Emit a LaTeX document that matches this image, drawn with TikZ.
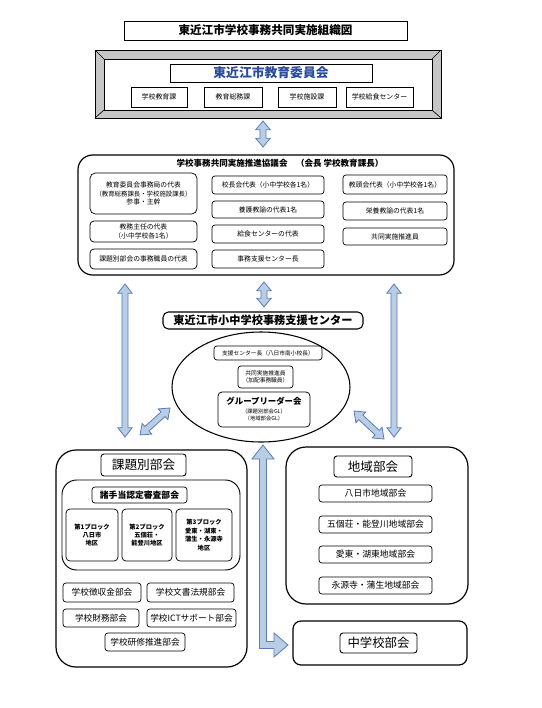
\documentclass[tikz,border=0pt]{standalone}
\usepackage{fontspec}
\setmainfont{Noto Sans CJK JP}
\usetikzlibrary{calc,shapes.geometric}
\definecolor{arrfill}{HTML}{B9CDE5}
\definecolor{arrline}{HTML}{5A7DB8}
\definecolor{boardblue}{HTML}{2B4C9B}
\definecolor{bevel}{HTML}{C6C6C6}
\newcommand\fs[2]{\fontsize{#1pt}{#2pt}\selectfont}
\newcommand\bx[7]{\node[#6, minimum width={(#4-#2)*0.75pt}, minimum height={(#5-#3)*0.75pt}] (#1) at ({(#2+#4)/2},{(#3+#5)/2}) {#7};}
\newcommand\dbarrow[3][7pt]{%
\filldraw[arrowst] (#2)
 -- ($(#2)!#1!(#3)!5.4pt!90:(#3)$)
 -- ($(#2)!#1!(#3)!2.3pt!90:(#3)$)
 -- ($(#3)!#1!(#2)!2.3pt!-90:(#2)$)
 -- ($(#3)!#1!(#2)!5.4pt!-90:(#2)$)
 -- (#3)
 -- ($(#3)!#1!(#2)!5.4pt!90:(#2)$)
 -- ($(#3)!#1!(#2)!2.3pt!90:(#2)$)
 -- ($(#2)!#1!(#3)!2.3pt!-90:(#3)$)
 -- ($(#2)!#1!(#3)!5.4pt!-90:(#3)$)
 -- cycle;}
\begin{document}
\begin{tikzpicture}[x=0.75pt,y=-0.75pt,
 box/.style={draw, rounded corners=2.2pt, inner sep=0pt, align=center, line width=0.55pt, fill=white, font=\fs{5.1}{6.5}},
 sq/.style={draw, inner sep=0pt, align=center, line width=0.6pt, fill=white},
 big/.style={draw, inner sep=0pt, line width=0.9pt},
 arrowst/.style={fill=arrfill, draw=arrline, line width=0.6pt, line join=miter}]
\fill[white] (0,0) rectangle (542,708);
\useasboundingbox (0,0) rectangle (542,708);
% title
\bx{title}{124}{21}{407}{40}{sq, font=\bfseries\fs{8.7}{10}}{東近江市学校事務共同実施組織図}
% board
\bx{board}{95}{50}{441}{118}{big, line width=0.6pt, fill=bevel}{}
\fill[white] (104,59) rectangle (432,110);
\draw[line width=0.6pt] (104,59) rectangle (432,110);
\draw[line width=0.5pt] (95,50)--(104,59) (441,50)--(432,59) (95,118)--(104,110) (441,118)--(432,110);
\bx{boe}{170}{64}{372}{82}{sq, font=\bfseries\fs{9.6}{11}, text=boardblue}{東近江市教育委員会}
\bx{d1}{131}{87}{187}{107}{sq, font=\fs{5.2}{6}}{学校教育課}
\bx{d2}{204}{87}{262}{107}{sq, font=\fs{5.2}{6}}{教育総務課}
\bx{d3}{278}{87}{336}{107}{sq, font=\fs{5.2}{6}}{学校施設課}
\bx{d4}{346}{87}{413}{107}{sq, font=\fs{5.2}{6}}{学校給食センター}
% council
\bx{council}{78}{155}{454}{275}{big, rounded corners=11pt}{}
\node[font=\bfseries\fs{6.4}{7.5}, inner sep=0pt] (ctitle) at (280,163) {学校事務共同実施推進協議会\quad（会長\ 学校教育課長）};
\bx{c1}{90}{173}{197}{214}{box, rounded corners=4pt}{教育委員会事務局の代表\\{\fs{4.8}{6.5}（教育総務課長・学校施設課長）}\\参事・主幹}
\bx{c2}{90}{221}{197}{242}{box, rounded corners=3pt}{教務主任の代表\\（小中学校各1名）}
\bx{c3}{90}{249}{197}{269}{box, rounded corners=3pt}{課題別部会の事務職員の代表}
\bx{m1}{212}{176}{324}{194}{box}{校長会代表（小中学校各1名）}
\bx{m2}{212}{201}{324}{218}{box}{養護教諭の代表1名}
\bx{m3}{212}{225}{324}{243}{box}{給食センターの代表}
\bx{m4}{212}{250}{324}{268}{box}{事務支援センター長}
\bx{r1}{343}{175}{447}{194}{box}{教頭会代表（小中学校各1名）}
\bx{r2}{343}{202}{447}{220}{box}{栄養教諭の代表1名}
\bx{r3}{343}{228}{447}{245}{box}{共同実施推進員}
% support center
\bx{sc}{163}{312}{363}{329}{box, rounded corners=4pt, line width=0.8pt, font=\bfseries\fs{8.4}{10}}{東近江市小中学校事務支援センター}
\node[draw, ellipse, line width=0.8pt, inner sep=0pt, minimum width=178*0.75pt, minimum height=110*0.75pt] (ell) at (261,387) {};
\bx{e1}{214}{346}{322}{360}{box, font=\fs{4.3}{5}}{支援センター長（八日市南小校長）}
\bx{e2}{238}{366}{293}{388}{box, font=\fs{4.3}{5.6}}{共同実施推進員\\（加配事務職員）}
\bx{e3}{218}{392}{310}{427}{box, rounded corners=3pt}{}
\node[font=\bfseries\fs{6.3}{7}, inner sep=0pt] (glt) at (264,401) {グループリーダー会};
\node[font=\fs{4}{5}, align=center, inner sep=0pt] (gls) at (264,415) {（課題別部会GL）\\（地域部会GL）};
% kadai
\bx{kadai}{56}{450}{247}{667}{big, rounded corners=15pt}{}
\bx{kt}{101}{454}{186}{476}{box, line width=0.7pt, font=\fs{9.5}{11}}{課題別部会}
\bx{grp}{62}{480}{240}{570}{big, rounded corners=11pt, line width=0.7pt}{}
\bx{sho}{92}{487}{187}{503}{box, font=\bfseries\fs{6.6}{8}}{諸手当認定審査部会}
\bx{b1}{66}{509}{118}{561}{box, rounded corners=3pt, font=\bfseries\fs{4.7}{6.3}}{第1ブロック\\八日市\\地区}
\bx{b2}{122}{509}{172}{561}{box, rounded corners=3pt, font=\bfseries\fs{4.7}{6.3}}{第2ブロック\\五個荘・\\能登川地区}
\bx{b3}{176}{509}{232}{561}{box, rounded corners=3pt, font=\bfseries\fs{4.7}{6.3}}{第3ブロック\\愛東・湖東・\\蒲生・永源寺\\地区}
\bx{k1}{63}{583}{141}{602}{box, font=\fs{6.5}{8}}{学校徴収金部会}
\bx{k2}{147}{583}{234}{602}{box, font=\fs{6.5}{8}}{学校文書法規部会}
\bx{k3}{63}{609}{139}{627}{box, font=\fs{6.5}{8}}{学校財務部会}
\bx{k4}{147}{609}{236}{627}{box, font=\fs{6.5}{8}}{学校ICTサポート部会}
\bx{k5}{105}{633}{185}{651}{box, font=\fs{6.5}{8}}{学校研修推進部会}
% chiiki
\bx{chiiki}{286}{447}{468}{604}{big, rounded corners=15pt}{}
\bx{cht}{334}{456}{412}{477}{box, line width=0.7pt, font=\fs{9.4}{11}}{地域部会}
\bx{ch1}{319}{485}{432}{502}{box, font=\fs{6.6}{8}}{八日市地域部会}
\bx{ch2}{319}{516}{432}{533}{box, font=\fs{6.6}{8}}{五個荘・能登川地域部会}
\bx{ch3}{319}{546}{432}{563}{box, font=\fs{6.6}{8}}{愛東・湖東地域部会}
\bx{ch4}{319}{577}{432}{594}{box, font=\fs{6.6}{8}}{永源寺・蒲生地域部会}
\bx{jhs}{293}{621}{467}{665}{big, rounded corners=6pt}{}
\bx{jht}{340}{633}{417}{653}{box, line width=0.7pt, font=\fs{9.3}{11}}{中学校部会}
% arrows
\coordinate (a1s) at (263,121); \coordinate (a1e) at (263,147);
\coordinate (a2s) at (264,282); \coordinate (a2e) at (264,307);
\coordinate (a3s) at (125,284); \coordinate (a3e) at (125,437);
\coordinate (a4s) at (394,284); \coordinate (a4e) at (394,437);
\coordinate (a5s) at (170,408); \coordinate (a5e) at (140,435);
\coordinate (a6s) at (354,411); \coordinate (a6e) at (384,439);
\dbarrow[6.5pt]{a1s}{a1e}
\dbarrow[6.5pt]{a2s}{a2e}
\dbarrow{a3s}{a3e}
\dbarrow{a4s}{a4e}
\dbarrow{a5s}{a5e}
\dbarrow{a6s}{a6e}
% L arrow
\coordinate (lt) at (263,445); \coordinate (le) at (288,645);
\filldraw[arrowst] (lt) -- (274,459) -- (266.5,459) -- (266.5,641.5) -- (274,641.5) -- (274,633) -- (le)
 -- (274,657) -- (274,648.5) -- (259.5,648.5) -- (259.5,459) -- (252,459) -- cycle;
\end{tikzpicture}
\end{document}
